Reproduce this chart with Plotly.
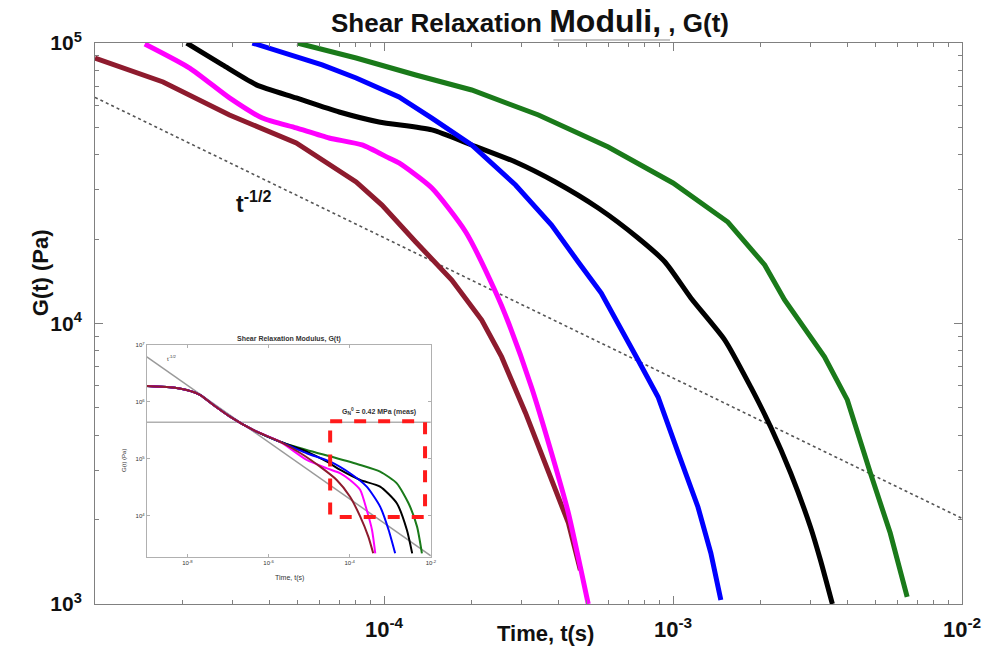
import plotly.graph_objects as go

# ---------------- main chart data ----------------
t_maroon = [1.0e-5, 1.72e-5, 2.92e-5, 4.97e-5, 8.01e-5, 9.84e-5, 1.288e-4, 1.716e-4, 2.178e-4, 2.553e-4, 3.088e-4, 3.80e-4, 4.345e-4, 4.78e-4]
G_maroon = [8.84e4, 7.26e4, 5.54e4, 4.40e4, 3.195e4, 2.645e4, 1.953e4, 1.429e4, 1.029e4, 7.60e3, 4.80e3, 2.77e3, 1.945e3, 1.32e3]

t_magenta = [1.487e-5, 2.126e-5, 2.92e-5, 3.796e-5, 4.97e-5, 6.46e-5, 8.40e-5, 1.040e-4, 1.127e-4, 1.464e-4, 1.918e-4, 2.433e-4, 2.698e-4, 3.237e-4, 3.80e-4, 4.345e-4, 4.78e-4, 5.09e-4]
G_magenta = [9.92e4, 8.14e4, 6.37e4, 5.40e4, 4.98e4, 4.585e4, 4.33e4, 3.89e4, 3.735e4, 3.04e4, 2.12e4, 1.295e4, 1.004e4, 5.94e3, 3.45e3, 2.11e3, 1.355e3, 1.0e3]

t_black = [2.076e-5, 2.763e-5, 3.62e-5, 4.97e-5, 7.0e-5, 9.61e-5, 1.464e-4, 2.011e-4, 2.852e-4, 3.918e-4, 5.51e-4, 7.57e-4, 9.38e-4, 1.153e-3, 1.511e-3, 1.857e-3, 2.178e-3, 2.553e-3, 2.99e-3, 3.237e-3, 3.56e-3]
G_black = [1.0e5, 8.35e4, 7.09e4, 6.37e4, 5.675e4, 5.23e4, 4.90e4, 4.33e4, 3.765e4, 3.195e4, 2.58e4, 2.017e4, 1.657e4, 1.233e4, 8.73e3, 5.94e3, 4.275e3, 2.93e3, 1.882e3, 1.435e3, 1.0e3]

t_blue = [3.505e-5, 4.70e-5, 6.11e-5, 8.01e-5, 1.127e-4, 1.464e-4, 2.011e-4, 2.852e-4, 3.80e-4, 4.70e-4, 5.645e-4, 7.57e-4, 8.88e-4, 1.040e-3, 1.22e-3, 1.352e-3, 1.464e-3]
G_blue = [1.0e5, 9.06e4, 8.35e4, 7.505e4, 6.42e4, 5.40e4, 4.33e4, 3.118e4, 2.245e4, 1.657e4, 1.284e4, 7.41e3, 5.47e3, 3.48e3, 2.217e3, 1.52e3, 1.033e3]

t_green = [5.01e-5, 8.01e-5, 1.288e-4, 2.011e-4, 3.424e-4, 5.97e-4, 1.0e-3, 1.548e-3, 2.076e-3, 2.433e-3, 3.343e-3, 4.01e-3, 4.82e-3, 5.645e-3, 6.46e-3]
G_green = [1.0e5, 8.84e4, 7.69e4, 6.80e4, 5.54e4, 4.26e4, 3.17e4, 2.30e4, 1.617e4, 1.213e4, 7.60e3, 5.34e3, 2.93e3, 1.79e3, 1.06e3]

t_ref = [1.0e-5, 1.0e-2]
G_ref = [6.4e4, 2.02e3]

x_tickvals = [1e-4, 1e-3, 1e-2]
x_ticktext = ["10<sup>-4</sup>", "10<sup>-3</sup>", "10<sup>-2</sup>"]
y_tickvals = [1e3, 1e4, 1e5]
y_ticktext = ["10<sup>3</sup>", "10<sup>4</sup>", "10<sup>5</sup>"]

# ---------------- inset data ----------------
ti_common = [1.0e-9, 3.72e-9, 9.55e-9, 2.04e-8, 4.37e-8, 1.12e-7, 4.17e-7, 1.91e-6]
Gi_common = [1.91e6, 1.81e6, 1.62e6, 1.33e6, 8.86e5, 5.53e5, 3.23e5, 2.01e5]

ti_green = ti_common + [8.71e-6, 3.98e-5, 1.82e-4, 5.62e-4, 1.45e-3, 2.82e-3, 4.57e-3, 6.03e-3]
Gi_green = Gi_common + [1.44e5, 1.07e5, 7.85e4, 6.0e4, 3.74e4, 1.67e4, 6.5e3, 2.21e3]
ti_black = ti_common + [8.71e-6, 2.75e-5, 5.89e-5, 1.82e-4, 5.62e-4, 1.45e-3, 2.57e-3, 3.47e-3]
Gi_black = Gi_common + [1.35e5, 8.97e4, 6.41e4, 4.28e4, 3.27e4, 1.67e4, 5.68e3, 2.21e3]
ti_blue = ti_common + [8.71e-6, 3.31e-5, 1.02e-4, 2.63e-4, 5.62e-4, 9.12e-4, 1.32e-3]
Gi_blue = Gi_common + [1.26e5, 8.97e4, 5.61e4, 3.27e4, 1.46e4, 5.68e3, 2.21e3]
ti_magenta = ti_common + [8.71e-6, 2.75e-5, 5.89e-5, 1.02e-4, 1.82e-4, 2.63e-4, 3.55e-4, 4.27e-4]
Gi_magenta = Gi_common + [9.6e4, 6.86e4, 5.61e4, 4.28e4, 2.86e4, 1.27e4, 5.68e3, 2.21e3]
ti_maroon = ti_common + [6.17e-6, 1.86e-5, 4.79e-5, 1.02e-4, 1.82e-4, 2.88e-4, 3.80e-4]
Gi_maroon = Gi_common + [1.26e5, 7.33e4, 4.28e4, 2.18e4, 9.72e3, 4.34e3, 2.21e3]

ti_ref = [1.0e-9, 1.0e-2]
Gi_ref = [6.2e6, 2.0e3]
ti_plateau = [1.0e-9, 1.0e-2]
Gi_plateau = [4.4e5, 4.4e5]
box_t = [3.3e-5, 7.2e-3, 7.2e-3, 3.3e-5, 3.3e-5]
box_G = [4.6e5, 4.6e5, 9.6e3, 9.6e3, 4.6e5]

xi_tickvals = [1e-8, 1e-6, 1e-4, 1e-2]
xi_ticktext = ["10<sup>-8</sup>", "10<sup>-6</sup>", "10<sup>-4</sup>", "10<sup>-2</sup>"]
yi_tickvals = [1e4, 1e5, 1e6, 1e7]
yi_ticktext = ["10<sup>4</sup>", "10<sup>5</sup>", "10<sup>6</sup>", "10<sup>7</sup>"]

MAROON = "#8E1B2E"
MAGENTA = "#FF00FF"
BLACK = "#000000"
BLUE = "#0000FF"
GREEN = "#1A7A1A"

FONT = "Liberation Sans"

fig = go.Figure()

# main reference slope line
fig.add_trace(go.Scatter(x=t_ref, y=G_ref, mode="lines",
                         line=dict(color="#555555", width=1.6, dash="dot"),
                         xaxis="x", yaxis="y", showlegend=False))
for t, G, c, shp in [(t_maroon, G_maroon, MAROON, "linear"), (t_magenta, G_magenta, MAGENTA, "spline"),
                     (t_black, G_black, BLACK, "spline"), (t_blue, G_blue, BLUE, "linear"),
                     (t_green, G_green, GREEN, "linear")]:
    fig.add_trace(go.Scatter(x=t, y=G, mode="lines", line=dict(color=c, width=5, shape=shp, smoothing=0.6),
                             xaxis="x", yaxis="y", showlegend=False))

# inset
fig.add_trace(go.Scatter(x=ti_ref, y=Gi_ref, mode="lines", line=dict(color="#9a9a9a", width=1.5),
                         xaxis="x2", yaxis="y2", showlegend=False))
fig.add_trace(go.Scatter(x=ti_plateau, y=Gi_plateau, mode="lines", line=dict(color="#b0b0b0", width=1.5),
                         xaxis="x2", yaxis="y2", showlegend=False))
for t, G, c in [(ti_green, Gi_green, GREEN), (ti_black, Gi_black, BLACK), (ti_blue, Gi_blue, BLUE),
                (ti_magenta, Gi_magenta, MAGENTA), (ti_maroon, Gi_maroon, MAROON)]:
    fig.add_trace(go.Scatter(x=t, y=G, mode="lines", line=dict(color=c, width=2, shape="spline", smoothing=0.6),
                             xaxis="x2", yaxis="y2", showlegend=False))
fig.add_trace(go.Scatter(x=box_t, y=box_G, mode="lines", line=dict(color="#FF1A1A", width=4, dash="dash"),
                         xaxis="x2", yaxis="y2", showlegend=False))

minor_main_x = [m * 10 ** e for e in (-5, -4, -3) for m in range(2, 10)]
minor_main_y = [m * 10 ** e for e in (3, 4) for m in range(2, 10)]

axis_common = dict(type="log", showline=True, linecolor="#808080", linewidth=1, mirror="allticks",
                   ticks="inside", ticklen=8, tickcolor="#808080", showgrid=False, zeroline=False)

fig.update_layout(
    width=993, height=661,
    margin=dict(l=95, r=28, t=43, b=57),
    paper_bgcolor="white", plot_bgcolor="white",
    font=dict(family=FONT, color="black"),
    title=dict(text="<b>Shear Relaxation <span style='font-size:32px'>Moduli,</span> , G(t)</b>",
               x=530 / 993, xref="container", xanchor="center",
               y=1 - 23 / 661, yref="container", yanchor="middle",
               font=dict(family=FONT, size=26, color="#111111")),
    xaxis=dict(axis_common, domain=[0, 1], range=[-5, -2], tickvals=x_tickvals, ticktext=x_ticktext,
               tickfont=dict(family=FONT, size=22, weight="bold", color="#111111"), ticklabelstandoff=6,
               minor=dict(tickvals=minor_main_x, ticks="inside", ticklen=4, tickcolor="#808080")),
    yaxis=dict(axis_common, domain=[0, 1], range=[3, 5], tickvals=y_tickvals, ticktext=y_ticktext,
               tickfont=dict(family=FONT, size=21, weight="bold", color="#111111"), ticklabelstandoff=8,
               minor=dict(tickvals=minor_main_y, ticks="inside", ticklen=4, tickcolor="#808080")),
    xaxis2=dict(axis_common, domain=[(147 - 95) / 870, (432 - 95) / 870], range=[-9, -2], anchor="y2",
                tickvals=xi_tickvals, ticktext=xi_ticktext, ticklen=3, linecolor="#b0b0b0", tickcolor="#b0b0b0",
                tickfont=dict(family=FONT, size=6, color="#333333")),
    yaxis2=dict(axis_common, domain=[(604 - 557) / 561, (604 - 345) / 561], range=[3.28, 7], anchor="x2",
                tickvals=yi_tickvals, ticktext=yi_ticktext, ticklen=3, linecolor="#b0b0b0", tickcolor="#b0b0b0",
                tickfont=dict(family=FONT, size=6, color="#333333")),
)

def note(text, px, py, size, angle=0, color="#111111"):
    fig.add_annotation(text=text, textangle=angle, xref="paper", yref="paper",
                       x=(px - 95) / 870, y=(604 - py) / 561, xanchor="center", yanchor="middle",
                       showarrow=False, font=dict(family=FONT, size=size, color=color))

note("<b>G(t) (Pa)</b>", 40, 273, 22, angle=-90)
note("<b>Time, t(s)</b>", 547, 633, 22)
note("<b>t<sup>-1/2</sup></b>", 254, 202, 23)
# inset texts
note("<b>Shear Relaxation Modulus, G(t)</b>", 290, 339, 7, color="#333333")
note("Time, t(s)", 290, 578, 7, color="#333333")
note("G(t) (Pa)", 124, 460, 6, angle=-90, color="#333333")
note("t<sup>-1/2</sup>", 172, 358, 6, color="#333333")
note("<b>G<sub>N</sub><sup>0</sup> = 0.42 MPa (meas)</b>", 380, 411, 7, color="#333333")

# faint underline below "Moduli," in the title
fig.add_shape(type="line", xref="paper", yref="paper",
              x0=(555 - 95) / 870, x1=(672 - 95) / 870, y0=(604 - 40) / 561, y1=(604 - 40) / 561,
              line=dict(color="#8a8a8a", width=1.2))

fig.write_html("out.html", config={"displayModeBar": False},
               post_script="document.body.style.margin='0';document.body.style.padding='0';"
                           "document.documentElement.style.overflow='hidden';")
